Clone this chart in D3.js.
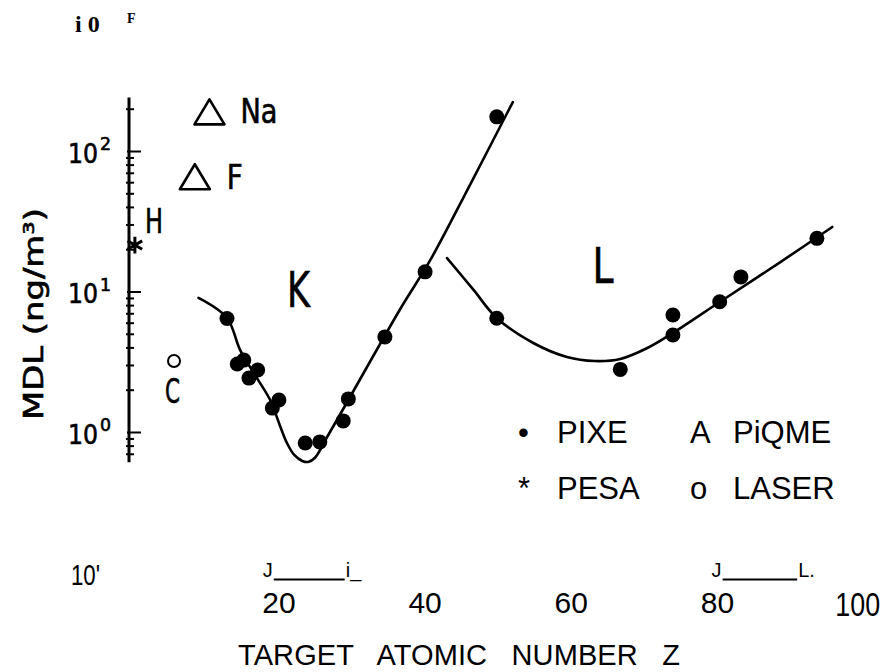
<!DOCTYPE html>
<html>
<head>
	<meta charset="utf-8">
	<script src="https://cdnjs.cloudflare.com/ajax/libs/d3/7.8.5/d3.min.js"></script>
	<style>
	body { margin: 0; background: #fff; }
	svg { display: block; }
	text { fill: #000; }
	.fit { fill: none; stroke: #000; stroke-width: 2.6px; stroke-linecap: round; stroke-linejoin: round; }
	.scan { font-family: "DejaVu Sans Condensed", "DejaVu Sans", sans-serif; font-stretch: condensed; stroke: #000; stroke-width: 0.6px; }
	.print { font-family: "Liberation Sans", Arial, sans-serif; }
	.tick line { stroke: #000; stroke-width: 2px; }
	</style>
</head>
<body>
	<svg width="887" height="672"></svg>
	<script>
	//PIXE points, K shell
	const kZ   = [12.9, 14.3, 15.2, 15.9, 17.1, 19.1, 20.0, 23.6, 25.6, 28.8, 29.5, 34.5, 40.0, 49.8];
	const kMDL = [6.42, 3.05, 3.25, 2.42, 2.76, 1.48, 1.69, 0.835, 0.85, 1.20, 1.72, 4.75, 13.8, 175];

	//PIXE points, L shell
	const lZ   = [49.8, 66.7, 73.9, 73.9, 80.3, 83.2, 93.6];
	const lMDL = [6.45, 2.79, 6.80, 4.90, 8.46, 12.7, 23.9];

	//drawn fit curves
	const kFitZ   = [9.0, 12.9, 14.7, 17.0, 18.8, 20.2, 21.1, 22.1, 23.2, 24.0, 24.9, 26.6, 29.5, 36.6, 40.7, 46.2, 52.0];
	const kFitMDL = [9.0, 6.48, 3.83, 2.42, 1.69, 1.09, 0.835, 0.686, 0.622, 0.612, 0.653, 0.921, 1.69, 7.51, 16.7, 58.2, 223];
	const lFitZ   = [43.0, 46.6, 49.8, 54.8, 59.4, 63.2, 66.7, 70.4, 73.9, 80.3, 88.6, 95.7];
	const lFitMDL = [17.3, 10.3, 6.48, 4.30, 3.42, 3.20, 3.31, 3.96, 5.07, 8.42, 16.2, 28.8];

	//light elements by other methods
	const lightNames   = ["H", "C", "F", "Na"];
	const lightMethods = ["PESA", "LASER", "PIQME", "PIQME"];
	const lightZ       = [0.3, 5.65, 8.5, 10.5];
	const lightMDL     = [21.4, 3.2, 65.6, 190];

	//shell labels
	const shellNames = ["K", "L"];
	const shellZ     = [21.1, 62.9];
	const shellMDL   = [7.8, 11.5];

	//legend
	const legendSymbols = ["\u2022", "A", "*", "o"];
	const legendNames   = ["PIXE", "PiQME", "PESA", "LASER"];

	//ticks
	const xTicks = [20, 40, 60, 80, 100];
	const yDecades = [1000, 100, 10, 1, 0.1];
	const yBase = ["i 0", "10", "10", "10", "10'"];
	const yExp  = ["F", "2", "1", "0", ""];
	const yAxisExtent = [0.61, 240];

	//scan marks under the axis (in Z)
	const markFrom  = [19.3, 80.7];
	const markTo    = [29.0, 90.9];
	const markLeft  = ["J", "J"];
	const markRight = ["i_", "L."];

	let svg = d3.select("svg");

	let x = d3.scaleLinear().domain([0, 100]).range([132.7, 863.7]),
		y = d3.scaleLog().domain([0.1, 1000]).range([572.5, 10.5]);

	const axisX = 129;

	//y axis line and ticks
	let tickVals = y.ticks().filter(v => v >= yAxisExtent[0] && v <= yAxisExtent[1]);
	let isDecade = v => Math.abs(Math.log10(v) - Math.round(Math.log10(v))) < 1e-9;

	svg.append("g")
		.attr("transform", "translate(" + (axisX - 3) + ",0)")
		.call(d3.axisRight(y).tickValues(tickVals.filter(v => !isDecade(v))).tickSize(8).tickFormat(""))
		.call(g => g.select(".domain").remove());

	svg.append("g")
		.attr("transform", "translate(" + (axisX - 2) + ",0)")
		.call(d3.axisRight(y).tickValues(tickVals.filter(isDecade)).tickSize(14).tickFormat(""))
		.call(g => g.select(".domain").remove());

	svg.append("line")
		.attr("x1", axisX).attr("x2", axisX)
		.attr("y1", y(yAxisExtent[0])).attr("y2", y(yAxisExtent[1]))
		.attr("stroke", "#000").attr("stroke-width", 3);

	//y tick labels
	yDecades.forEach(function(v, i) {
		if (i === 0) {
			//top label comes out garbled in serif
			svg.append("text").attr("x", 75).attr("y", y(v) + 21)
				.style("font", "bold 24px 'Liberation Serif', serif").text(yBase[i]);
			svg.append("text").attr("x", 127).attr("y", y(v) + 12)
				.style("font", "bold 14px 'Liberation Serif', serif").text(yExp[i]);
		} else if (yExp[i] === "") {
			svg.append("text").attr("class", "print")
				.attr("x", 100).attr("y", y(v) + 12.5)
				.attr("text-anchor", "end")
				.attr("textLength", 29).attr("lengthAdjust", "spacingAndGlyphs")
				.style("font-size", "30px").text(yBase[i]);
		} else {
			svg.append("text").attr("class", "scan")
				.attr("x", 68).attr("y", y(v) + 11.5)
				.attr("textLength", 30).attr("lengthAdjust", "spacingAndGlyphs")
				.style("font-size", "27px").text(yBase[i]);
			svg.append("text").attr("class", "scan")
				.attr("x", 100).attr("y", y(v) - 1)
				.attr("textLength", 11).attr("lengthAdjust", "spacingAndGlyphs")
				.style("font-size", "18px").text(yExp[i]);
		}
	});

	//y axis title
	svg.append("text")
		.attr("class", "scan")
		.attr("transform", "translate(43,314) rotate(-90)")
		.attr("text-anchor", "middle")
		.attr("textLength", 212).attr("lengthAdjust", "spacingAndGlyphs")
		.style("font-size", "26px")
		.text("MDL (ng/m\u00b3)");

	//x tick labels, the last one is printed bigger and squeezed
	svg.selectAll(".xlab")
		.data(xTicks)
		.join("text")
		.attr("class", "xlab print")
		.attr("transform", d => d === 100
			? "translate(" + (x(d) - 6) + ",616) scale(0.79,1)"
			: "translate(" + x(d) + ",613)")
		.attr("text-anchor", "middle")
		.style("font-size", d => d === 100 ? "34px" : "30px")
		.text(d => d);

	//scan marks above tick labels
	markFrom.forEach(function(z0, i) {
		svg.append("line")
			.attr("x1", x(z0)).attr("x2", x(markTo[i]))
			.attr("y1", 579.5).attr("y2", 579.5)
			.attr("stroke", "#000").attr("stroke-width", 2);
		svg.append("text").attr("class", "print")
			.attr("x", x(z0) - 1).attr("y", 577).attr("text-anchor", "end")
			.style("font-size", "20px").text(markLeft[i]);
		svg.append("text").attr("class", "print")
			.attr("x", x(markTo[i]) + 1).attr("y", 577)
			.style("font-size", "20px").text(markRight[i]);
	});

	//x axis title
	svg.append("text")
		.attr("class", "print")
		.attr("x", 459).attr("y", 665)
		.attr("text-anchor", "middle")
		.attr("textLength", 442).attr("lengthAdjust", "spacing")
		.style("font-size", "29px")
		.style("white-space", "pre")
		.text("TARGET   ATOMIC   NUMBER   Z");

	//fit curves
	let line = d3.line()
		.curve(d3.curveCatmullRom.alpha(0.5))
		.x(d => x(d[0]))
		.y(d => y(d[1]));

	svg.append("path").attr("class", "fit").attr("d", line(d3.zip(kFitZ, kFitMDL)));
	svg.append("path").attr("class", "fit").attr("d", line(d3.zip(lFitZ, lFitMDL)));

	//PIXE dots
	svg.selectAll(".pixe")
		.data(d3.zip(kZ.concat(lZ), kMDL.concat(lMDL)))
		.join("circle")
		.attr("class", "pixe")
		.attr("cx", d => x(d[0]))
		.attr("cy", d => y(d[1]))
		.attr("r", 7.5)
		.attr("fill", "#000");

	//light elements
	let lightLabelOffset = {H: [10, -12], C: [-9, 42], F: [32, 12], Na: [31, 11]};
	let lightLabelWidth = {H: 18, C: 15, F: 16, Na: 37};

	lightNames.forEach(function(name, i) {
		let cx = x(lightZ[i]), cy = y(lightMDL[i]);
		let m = lightMethods[i];
		if (m === "PIQME") {
			svg.append("path")
				.attr("d", "M" + (cx - 15) + "," + (cy + 12.5) + "L" + (cx + 15) + "," + (cy + 12.5) + "L" + cx + "," + (cy - 12.5) + "Z")
				.attr("fill", "none").attr("stroke", "#000").attr("stroke-width", 2.6)
				.attr("stroke-linejoin", "round");
		} else if (m === "PESA") {
			svg.append("path")
				.attr("transform", "translate(" + cx + "," + cy + ")")
				.attr("d", d3.symbol(d3.symbolAsterisk, 200)())
				.attr("fill", "none").attr("stroke", "#000").attr("stroke-width", 3);
		} else {
			svg.append("circle")
				.attr("cx", cx).attr("cy", cy).attr("r", 6)
				.attr("fill", "none").attr("stroke", "#000").attr("stroke-width", 2);
		}
		let off = lightLabelOffset[name];
		svg.append("text").attr("class", "scan")
			.attr("x", cx + off[0]).attr("y", cy + off[1])
			.attr("textLength", lightLabelWidth[name]).attr("lengthAdjust", "spacingAndGlyphs")
			.style("font-size", "34px")
			.text(name);
	});

	//shell labels
	svg.selectAll(".shell")
		.data(shellNames)
		.join("text")
		.attr("class", "shell scan")
		.attr("x", (d, i) => x(shellZ[i]))
		.attr("y", (d, i) => y(shellMDL[i]))
		.attr("textLength", (d, i) => i === 0 ? 23 : 21)
		.attr("lengthAdjust", "spacingAndGlyphs")
		.style("font-size", "50px")
		.text(d => d);

	//legend
	let legend = svg.append("g").attr("class", "print").style("font-size", "31px");
	legendNames.forEach(function(name, i) {
		let col = i % 2, row = Math.floor(i / 2);
		let lx = col === 0 ? 518 : 690, ly = row === 0 ? 443 : 499;
		legend.append("text").attr("x", lx).attr("y", ly).text(legendSymbols[i]);
		legend.append("text").attr("x", lx + (col === 0 ? 39 : 43)).attr("y", ly).text(name);
	});
	</script>
</body>
</html>
